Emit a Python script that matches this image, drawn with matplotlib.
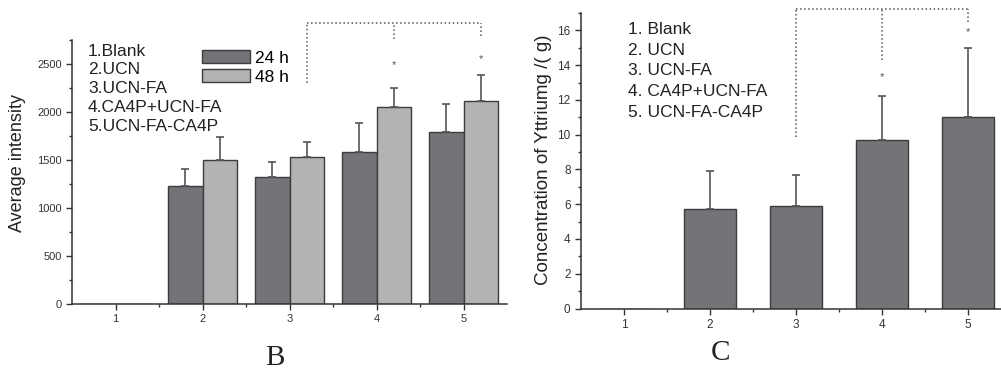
import numpy as np
import matplotlib.pyplot as plt
from matplotlib.ticker import MultipleLocator

plt.rcParams['font.family'] = ['Liberation Sans', 'DejaVu Sans']

# data
groups = [1, 2, 3, 4, 5]
group_names = ['Blank', 'UCN', 'UCN-FA', 'CA4P+UCN-FA', 'UCN-FA-CA4P']

# panel B: average intensity
int_24h = [0, 1230, 1320, 1580, 1795]
err_24h = [0, 180, 160, 310, 285]
int_48h = [0, 1500, 1530, 2055, 2115]
err_48h = [0, 235, 160, 200, 275]
star_b = {4: 2490, 5: 2550}

# panel C: yttrium concentration
ytt = [0, 5.7, 5.9, 9.7, 11.0]
ytt_err = [0, 2.2, 1.8, 2.5, 4.0]
star_c = {4: 13.3, 5: 15.9}

dark = '#727477'
light = '#b2b3b5'
edge = '#3c3c3c'
line_c = '#555555'

W, H = 1001, 373
fig = plt.figure(figsize=(W / 100, H / 100), dpi=100)


def px_axes(l, t, r, b):
    return fig.add_axes([l / W, 1 - b / H, (r - l) / W, (b - t) / H])


def style_axes(ax, tick_fs):
    for s in ['top', 'right']:
        ax.spines[s].set_visible(False)
    for s in ['left', 'bottom']:
        ax.spines[s].set_linewidth(1.1)
        ax.spines[s].set_color('#333333')
    ax.tick_params(which='major', direction='out', length=4, width=1, colors='#333333', labelsize=tick_fs)
    ax.tick_params(which='minor', direction='out', length=2.5, width=1, colors='#333333')
    ax.set_xlim(0.5, 5.5)
    ax.set_xticks(groups)
    ax.set_xticks([1.5, 2.5, 3.5, 4.5], minor=True)


x = np.array(groups, dtype=float)

# ---------------- panel B ----------------
axb = px_axes(72, 40, 507, 304)
style_axes(axb, 8)
axb.set_ylim(0, 2750)
axb.yaxis.set_major_locator(MultipleLocator(500))
axb.yaxis.set_minor_locator(MultipleLocator(250))

bw = 0.4
b24 = axb.bar(x - bw / 2, int_24h, bw, color=dark, edgecolor=edge, linewidth=1, label='24 h')
b48 = axb.bar(x + bw / 2, int_48h, bw, color=light, edgecolor=edge, linewidth=1, label='48 h')
m = np.array(int_24h) > 0
axb.errorbar((x - bw / 2)[m], np.array(int_24h)[m], yerr=[np.zeros(m.sum()), np.array(err_24h)[m]],
             fmt='none', ecolor=line_c, elinewidth=1.2, capsize=3, capthick=1.2)
axb.errorbar((x + bw / 2)[m], np.array(int_48h)[m], yerr=[np.zeros(m.sum()), np.array(err_48h)[m]],
             fmt='none', ecolor=line_c, elinewidth=1.2, capsize=3, capthick=1.2)
for g, yv in star_b.items():
    axb.text(g + bw / 2, yv, '*', ha='center', va='center', fontsize=8, color=line_c)

# significance bracket
br_x = [3 + bw / 2, 4 + bw / 2, 5 + bw / 2]
br_top = 2925
br_bot = [2300, 2760, 2790]
axb.plot([br_x[0], br_x[-1]], [br_top, br_top], ls=':', color=line_c, lw=1.1, clip_on=False)
for bx, by in zip(br_x, br_bot):
    axb.plot([bx, bx], [by, br_top], ls=':', color=line_c, lw=1.1, clip_on=False)

for i, name in enumerate(group_names):
    axb.text(0.037, 0.958 - i * 0.071, f'{i + 1}.{name}', transform=axb.transAxes,
             fontsize=12.5, va='center', ha='left', color='#222222')
axb.legend(handles=[b24, b48], loc='upper left', bbox_to_anchor=(0.271, 1.008), frameon=False,
           fontsize=12.5, handlelength=2.75, handleheight=0.8, handletextpad=0.3,
           labelspacing=0.2, borderpad=0.2)

fig.text(18 / W, 1 - 163 / H, 'Average intensity', rotation=90, ha='center', va='center',
         fontsize=13, color='#222222')
fig.text(275 / W, 1 - 358 / H, 'B', family=['Liberation Serif'], fontsize=21,
         ha='center', va='center', color='#222222')

# ---------------- panel C ----------------
axc = px_axes(581, 13, 1011, 308.5)
style_axes(axc, 8.5)
axc.set_ylim(0, 17)
axc.yaxis.set_major_locator(MultipleLocator(2))
axc.yaxis.set_minor_locator(MultipleLocator(1))

cw = 0.6
axc.bar(x, ytt, cw, color=dark, edgecolor=edge, linewidth=1)
mc = np.array(ytt) > 0
axc.errorbar(x[mc], np.array(ytt)[mc], yerr=[np.zeros(mc.sum()), np.array(ytt_err)[mc]],
             fmt='none', ecolor=line_c, elinewidth=1.2, capsize=3, capthick=1.2)
for g, yv in star_c.items():
    axc.text(g, yv, '*', ha='center', va='center', fontsize=8, color=line_c)

cbr_x = [3, 4, 5]
cbr_top = 17.25
cbr_bot = [9.85, 14.3, 16.5]
axc.plot([cbr_x[0], cbr_x[-1]], [cbr_top, cbr_top], ls=':', color=line_c, lw=1.1, clip_on=False)
for bx, by in zip(cbr_x, cbr_bot):
    axc.plot([bx, bx], [by, cbr_top], ls=':', color=line_c, lw=1.1, clip_on=False)

for i, name in enumerate(group_names):
    axc.text((628 - 581) / 430, (308.5 - (29.3 + i * 20.8)) / 295.5, f'{i + 1}. {name}',
             transform=axc.transAxes, fontsize=12.5, va='center', ha='left', color='#222222')

fig.text(543 / W, 1 - 160 / H, 'Concentration of Yttriumg /( g)', rotation=90, ha='center',
         va='center', fontsize=13.5, color='#222222')
fig.text(720 / W, 1 - 353 / H, 'C', family=['Liberation Serif'], fontsize=21,
         ha='center', va='center', color='#222222')

fig.savefig('out.png', dpi=100)
